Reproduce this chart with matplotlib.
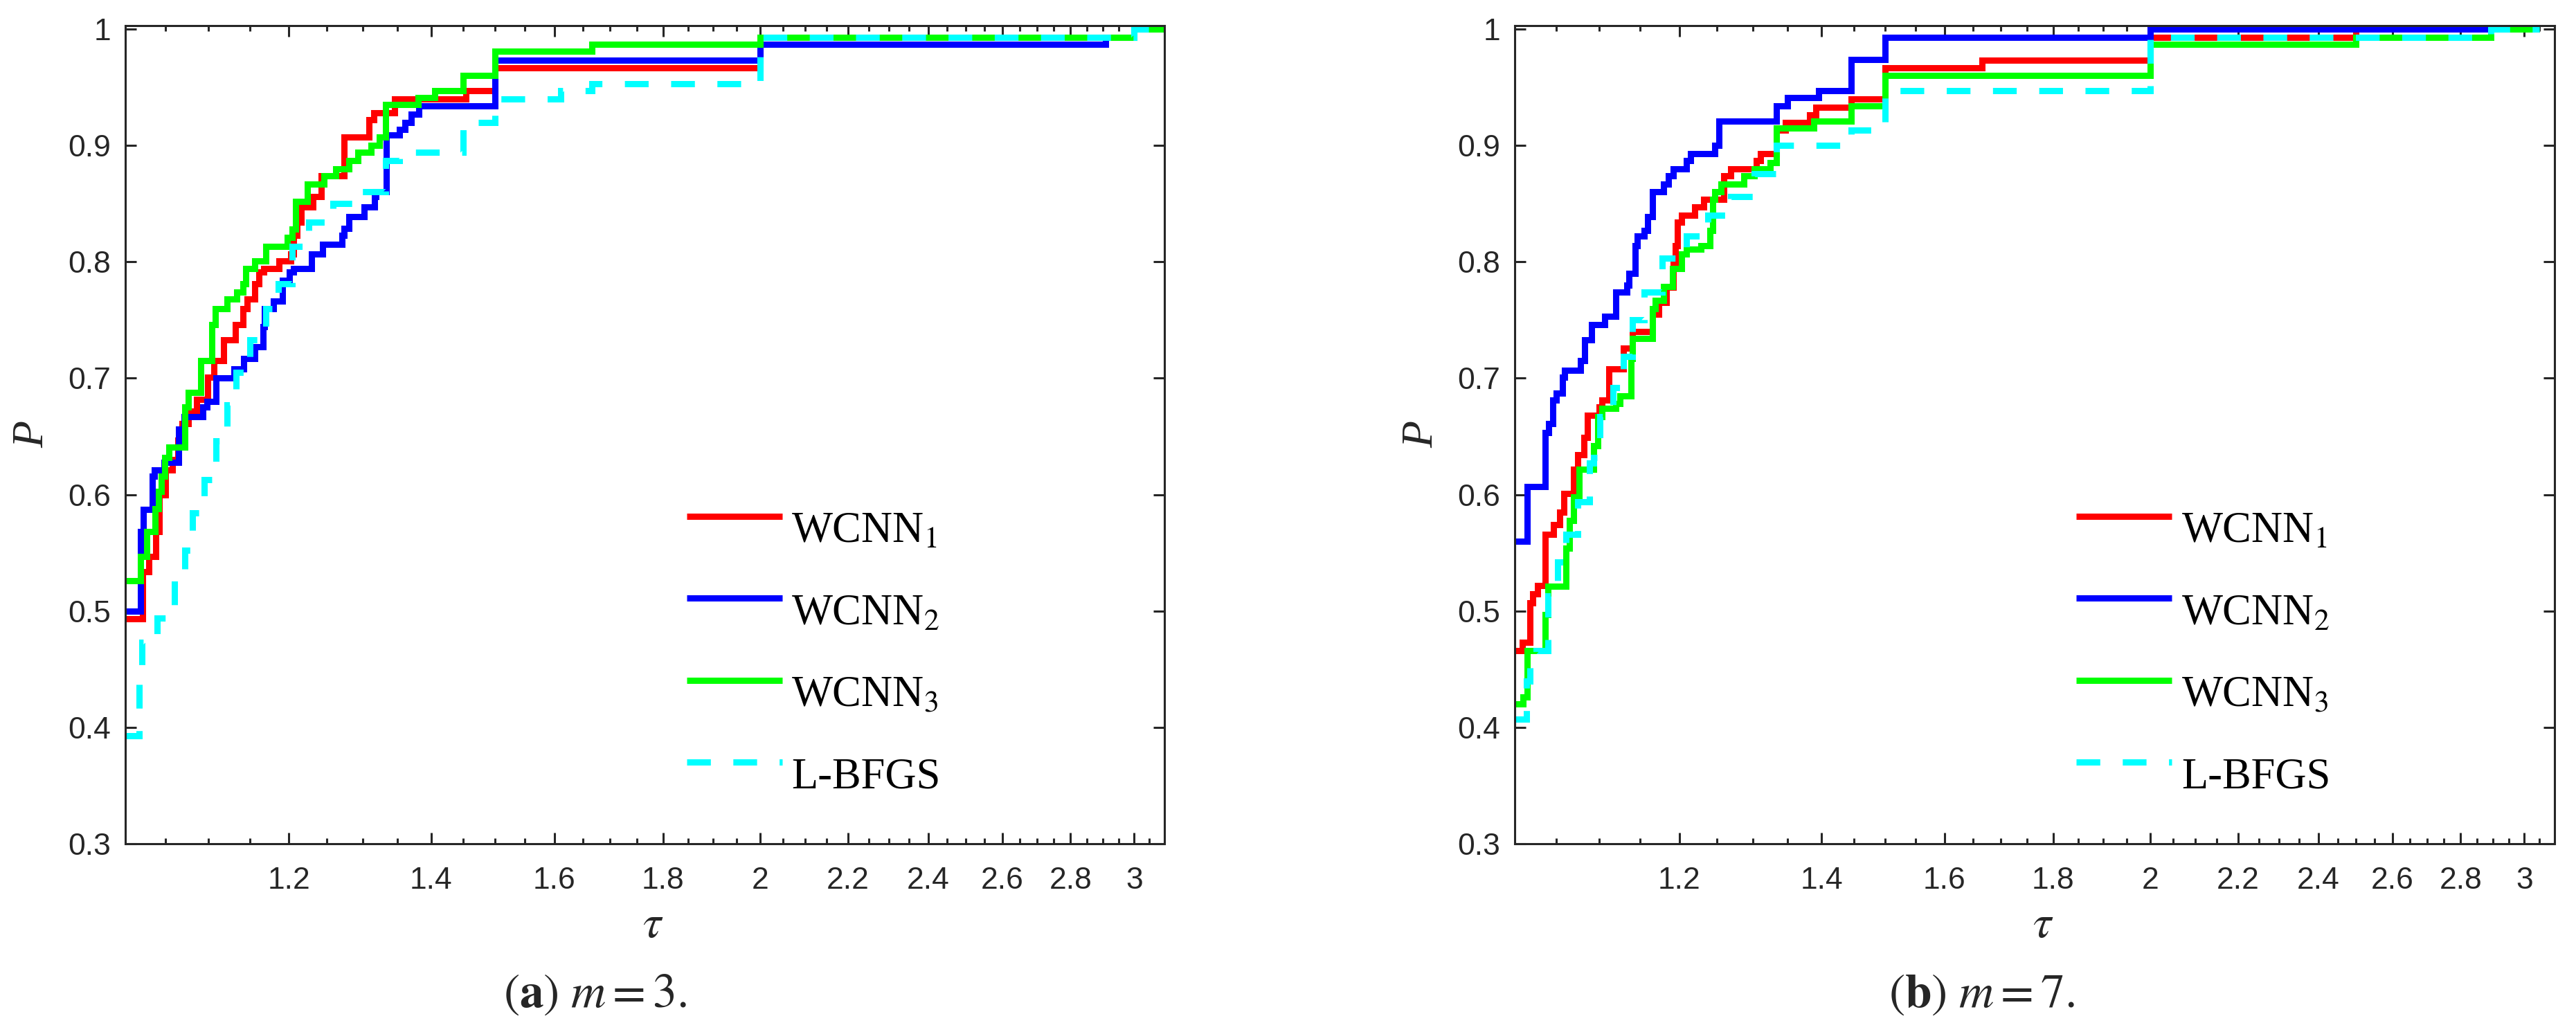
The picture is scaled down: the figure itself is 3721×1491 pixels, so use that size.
import numpy as np
import matplotlib
matplotlib.use('Agg')
import matplotlib.pyplot as plt
from matplotlib.ticker import NullFormatter

# performance profiles, panel (a) m = 3
tau_a1 = [1.0, 1.024, 1.031, 1.039, 1.043, 1.050, 1.058, 1.064, 1.069, 1.076, 1.086, 1.099,
          1.106, 1.118, 1.132, 1.142, 1.147, 1.156, 1.162, 1.168, 1.187, 1.202, 1.206, 1.211,
          1.216, 1.232, 1.243, 1.274, 1.309, 1.316, 1.346, 1.454, 1.5, 2.0, 3.0, 3.1]
p_a1 = [0.493, 0.534, 0.547, 0.568, 0.600, 0.621, 0.630, 0.647, 0.661, 0.672, 0.682, 0.701,
        0.715, 0.733, 0.746, 0.760, 0.768, 0.781, 0.791, 0.794, 0.801, 0.807, 0.823, 0.834,
        0.847, 0.856, 0.874, 0.907, 0.922, 0.928, 0.940, 0.947, 0.967, 0.993, 1.0, 1.0]

tau_a2 = [1.0, 1.022, 1.025, 1.035, 1.037, 1.048, 1.065, 1.071, 1.093, 1.098, 1.109, 1.131,
          1.143, 1.156, 1.167, 1.169, 1.180, 1.192, 1.201, 1.206, 1.230, 1.245, 1.271, 1.274,
          1.281, 1.302, 1.317, 1.319, 1.334, 1.353, 1.361, 1.370, 1.382, 1.5, 2.0, 2.908, 3.0, 3.1]
p_a2 = [0.500, 0.568, 0.587, 0.616, 0.621, 0.628, 0.656, 0.667, 0.675, 0.680, 0.700, 0.708,
        0.717, 0.727, 0.744, 0.760, 0.766, 0.784, 0.791, 0.794, 0.807, 0.815, 0.823, 0.829,
        0.839, 0.847, 0.856, 0.860, 0.909, 0.914, 0.920, 0.927, 0.934, 0.973, 0.987, 0.993, 1.0, 1.0]

tau_a3 = [1.0, 1.022, 1.029, 1.038, 1.042, 1.045, 1.049, 1.054, 1.072, 1.076, 1.091, 1.104,
          1.108, 1.122, 1.134, 1.142, 1.145, 1.156, 1.170, 1.198, 1.204, 1.209, 1.224, 1.247,
          1.263, 1.281, 1.293, 1.312, 1.324, 1.333, 1.380, 1.406, 1.450, 1.5, 1.667, 2.0, 3.0, 3.1]
p_a3 = [0.526, 0.547, 0.568, 0.588, 0.603, 0.616, 0.632, 0.641, 0.675, 0.688, 0.715, 0.746,
        0.760, 0.768, 0.774, 0.781, 0.794, 0.801, 0.813, 0.821, 0.828, 0.852, 0.867, 0.874,
        0.880, 0.887, 0.894, 0.900, 0.907, 0.935, 0.941, 0.947, 0.960, 0.981, 0.987, 0.993, 1.0, 1.0]

tau_a4 = [1.0, 1.020, 1.023, 1.040, 1.060, 1.072, 1.081, 1.095, 1.109, 1.122, 1.133, 1.150,
          1.170, 1.186, 1.204, 1.226, 1.259, 1.299, 1.333, 1.353, 1.450, 1.5, 1.611, 1.667,
          2.0, 3.0, 3.1]
p_a4 = [0.393, 0.438, 0.473, 0.494, 0.523, 0.552, 0.584, 0.613, 0.646, 0.677, 0.705, 0.733,
        0.760, 0.781, 0.813, 0.834, 0.850, 0.860, 0.887, 0.894, 0.920, 0.940, 0.947, 0.953,
        0.993, 1.0, 1.0]

# performance profiles, panel (b) m = 7
tau_b1 = [1.0, 1.012, 1.021, 1.024, 1.029, 1.038, 1.047, 1.054, 1.059, 1.070, 1.075, 1.082,
          1.086, 1.100, 1.104, 1.112, 1.130, 1.141, 1.166, 1.174, 1.183, 1.192, 1.195, 1.198,
          1.203, 1.220, 1.232, 1.259, 1.269, 1.305, 1.311, 1.333, 1.346, 1.382, 1.392, 1.446,
          1.5, 1.667, 2.0, 2.5, 3.05]
p_b1 = [0.466, 0.473, 0.507, 0.515, 0.522, 0.566, 0.574, 0.585, 0.601, 0.622, 0.634, 0.649,
        0.668, 0.675, 0.681, 0.708, 0.726, 0.740, 0.755, 0.765, 0.778, 0.798, 0.814, 0.834,
        0.840, 0.847, 0.854, 0.874, 0.880, 0.887, 0.893, 0.913, 0.920, 0.926, 0.933, 0.940,
        0.967, 0.973, 0.993, 1.0, 1.0]

tau_b2 = [1.0, 1.018, 1.038, 1.042, 1.046, 1.050, 1.057, 1.060, 1.078, 1.083, 1.091, 1.107,
          1.120, 1.134, 1.136, 1.144, 1.147, 1.155, 1.160, 1.166, 1.180, 1.186, 1.192, 1.209,
          1.215, 1.247, 1.253, 1.333, 1.349, 1.396, 1.446, 1.5, 2.0, 3.05]
p_b2 = [0.560, 0.607, 0.653, 0.661, 0.681, 0.687, 0.701, 0.707, 0.715, 0.733, 0.746, 0.753,
        0.774, 0.780, 0.790, 0.814, 0.822, 0.827, 0.839, 0.860, 0.867, 0.874, 0.880, 0.887,
        0.893, 0.900, 0.921, 0.934, 0.941, 0.947, 0.974, 0.993, 1.0, 1.0]

tau_b3 = [1.0, 1.013, 1.018, 1.038, 1.041, 1.061, 1.065, 1.070, 1.077, 1.094, 1.099, 1.104,
          1.120, 1.125, 1.139, 1.141, 1.166, 1.169, 1.180, 1.191, 1.203, 1.209, 1.229, 1.241,
          1.244, 1.247, 1.256, 1.287, 1.302, 1.324, 1.333, 1.389, 1.446, 1.5, 2.0, 2.5, 2.894, 3.05]
p_b3 = [0.420, 0.426, 0.466, 0.497, 0.521, 0.554, 0.578, 0.598, 0.622, 0.642, 0.667, 0.674,
        0.678, 0.685, 0.717, 0.734, 0.760, 0.767, 0.779, 0.794, 0.807, 0.811, 0.814, 0.827,
        0.854, 0.860, 0.867, 0.874, 0.880, 0.885, 0.915, 0.921, 0.934, 0.960, 0.987, 0.993, 1.0, 1.0]

tau_b4 = [1.0, 1.017, 1.021, 1.028, 1.041, 1.052, 1.061, 1.075, 1.089, 1.094, 1.101, 1.117,
          1.130, 1.141, 1.155, 1.178, 1.209, 1.238, 1.269, 1.302, 1.333, 1.446, 1.5, 2.0,
          2.894, 3.05]
p_b4 = [0.407, 0.440, 0.455, 0.466, 0.513, 0.542, 0.566, 0.594, 0.627, 0.632, 0.667, 0.692,
        0.719, 0.750, 0.774, 0.803, 0.822, 0.840, 0.856, 0.876, 0.900, 0.913, 0.947, 0.993,
        1.0, 1.0]

methods = ['WCNN$_1$', 'WCNN$_2$', 'WCNN$_3$', 'L-BFGS']
colors = ['#ff0000', '#0000ff', '#00ff00', '#00ffff']
dashed = [False, False, False, True]

x_major = [1.2, 1.4, 1.6, 1.8, 2.0, 2.2, 2.4, 2.6, 2.8, 3.0]
x_labels = ['1.2', '1.4', '1.6', '1.8', '2', '2.2', '2.4', '2.6', '2.8', '3']
y_major = [0.3, 0.4, 0.5, 0.6, 0.7, 0.8, 0.9, 1.0]
y_labels = ['0.3', '0.4', '0.5', '0.6', '0.7', '0.8', '0.9', '1']

captions = [r'$(\mathbf{a})\ m = 3.$', r'$(\mathbf{b})\ m = 7.$']

plt.rcParams['font.family'] = ['Liberation Sans', 'DejaVu Sans']
plt.rcParams['mathtext.fontset'] = 'stix'

axcol = '#262626'
fig = plt.figure(figsize=(37.21, 14.91), dpi=100)

panels = [
    ([0.04864, 0.18243, 0.40339, 0.79276], (1.005, 3.1),
     [(tau_a1, p_a1), (tau_a2, p_a2), (tau_a3, p_a3), (tau_a4, p_a4)], 0.2309),
    ([0.58801, 0.18243, 0.40366, 0.79276], (1.004, 3.1),
     [(tau_b1, p_b1), (tau_b2, p_b2), (tau_b3, p_b3), (tau_b4, p_b4)], 0.7694),
]

minor = [t for t in np.arange(1.05, 3.06, 0.05) if min(abs(t - m) for m in x_major) > 1e-6]

for k, (pos, xlim, curves, cap_x) in enumerate(panels):
    ax = fig.add_axes(pos)
    for (tau, p), col, dsh in zip(curves, colors, dashed):
        if dsh:
            ax.step(tau, p, where='post', color=col, lw=6.5, dashes=(3.8, 3.6),
                    dash_capstyle='butt', dash_joinstyle='miter')
        else:
            ax.step(tau, p, where='post', color=col, lw=6.5,
                    solid_capstyle='butt', solid_joinstyle='miter')

    ax.set_xscale('log')
    ax.set_xlim(*xlim)
    ax.set_ylim(0.3, 1.003)
    ax.set_xticks(x_major)
    ax.set_xticklabels(x_labels)
    ax.set_xticks(minor, minor=True)
    ax.xaxis.set_minor_formatter(NullFormatter())
    ax.set_yticks(y_major)
    ax.set_yticklabels(y_labels)

    ax.tick_params(which='both', direction='in', top=True, right=True,
                   width=2.2, color=axcol, labelcolor=axcol)
    ax.tick_params(which='major', length=11.5, labelsize=32)
    ax.tick_params(which='minor', length=6)
    ax.tick_params(axis='x', which='major', pad=23.5)
    ax.tick_params(axis='y', which='major', pad=15)
    for sp in ax.spines.values():
        sp.set_linewidth(2.2)
        sp.set_color(axcol)

    ax.set_xlabel(r'$\tau$', fontsize=48, color=axcol)
    ax.xaxis.label.set_va('center')
    ax.xaxis.set_label_coords(0.508, -0.10)
    ax.set_ylabel('P', fontsize=46, color=axcol, family='Liberation Serif', style='italic')
    ax.yaxis.label.set_va('center')
    ax.yaxis.set_label_coords(-0.089, 0.5)

    # legend, no frame, rows spaced evenly
    for i, (name, col, dsh) in enumerate(zip(methods, colors, dashed)):
        yy = 0.4 - 0.1 * i
        if dsh:
            ax.plot([0.540, 0.632], [yy, yy], transform=ax.transAxes, color=col, lw=6.5,
                    dashes=(3.8, 3.6), dash_capstyle='butt', clip_on=False)
        else:
            ax.plot([0.540, 0.632], [yy, yy], transform=ax.transAxes, color=col, lw=6.5,
                    solid_capstyle='butt', clip_on=False)
        ax.text(0.641, yy - 0.032, name, transform=ax.transAxes, fontsize=45,
                family='Liberation Serif', va='baseline', ha='left', color='black')

    fig.text(cap_x, 0.0362, captions[k], fontsize=50, ha='center', va='center', color=axcol)

fig.savefig('out.png', dpi=100)
